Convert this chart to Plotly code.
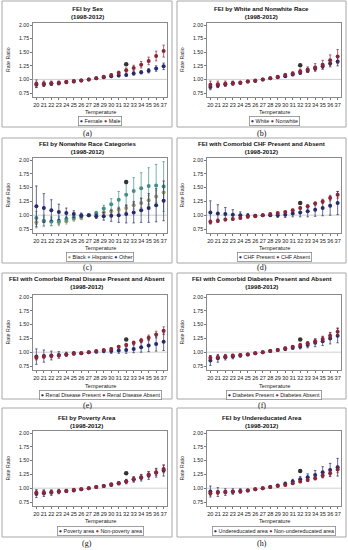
import plotly.graph_objects as go

temps = list(range(20, 38))
ytick_vals = [0.75, 1.00, 1.25, 1.50, 1.75, 2.00]
ytick_text = ["0.75", "1.00", "1.25", "1.50", "1.75", "2.00"]

NAVY = "#262B6C"
RED = "#8A2638"
TAN = "#A89C6A"
TEAL = "#3F9088"
EXTRA = "#333333"

# (a) sex
a_female = [0.90,0.91,0.92,0.93,0.95,0.96,0.98,1.00,1.02,1.04,1.06,1.07,1.08,1.11,1.13,1.16,1.20,1.24]
a_female_err = [0.05,0.04,0.03,0.03,0.02,0.02,0.01,0.00,0.01,0.01,0.02,0.02,0.02,0.03,0.03,0.04,0.05,0.06]
a_male = [0.92,0.92,0.93,0.94,0.95,0.97,0.98,1.00,1.02,1.05,1.08,1.12,1.17,1.21,1.27,1.34,1.43,1.52]
a_male_err = [0.07,0.05,0.04,0.03,0.03,0.02,0.01,0.00,0.01,0.02,0.02,0.03,0.04,0.05,0.06,0.07,0.09,0.11]
a_extra = 1.28
# (b) white / nonwhite
b_white = [0.86,0.89,0.91,0.93,0.94,0.96,0.97,1.00,1.02,1.04,1.06,1.09,1.12,1.16,1.20,1.24,1.29,1.33]
b_white_err = [0.05,0.04,0.03,0.03,0.02,0.01,0.01,0.00,0.01,0.01,0.02,0.02,0.03,0.03,0.04,0.05,0.06,0.08]
b_nonwhite = [0.90,0.91,0.92,0.93,0.94,0.96,0.98,1.00,1.02,1.05,1.08,1.11,1.15,1.18,1.22,1.27,1.35,1.42]
b_nonwhite_err = [0.07,0.06,0.05,0.04,0.03,0.02,0.01,0.00,0.01,0.02,0.03,0.03,0.04,0.05,0.07,0.08,0.10,0.13]
b_extra = 1.26
# (c) nonwhite categories
c_black = [0.87,0.89,0.88,0.87,0.89,0.93,0.95,1.00,1.02,1.05,1.07,1.10,1.13,1.18,1.22,1.27,1.34,1.41]
c_black_err = [0.10,0.08,0.07,0.06,0.05,0.04,0.03,0.00,0.02,0.03,0.04,0.05,0.06,0.07,0.08,0.09,0.11,0.13]
c_hispanic = [0.95,0.90,0.89,0.90,0.93,0.96,0.98,1.00,1.04,1.12,1.20,1.28,1.37,1.44,1.49,1.53,1.54,1.52]
c_hispanic_err = [0.12,0.10,0.08,0.07,0.05,0.04,0.03,0.00,0.03,0.06,0.10,0.15,0.20,0.24,0.28,0.33,0.38,0.45]
c_other = [1.16,1.13,1.09,1.06,1.04,1.02,1.00,1.00,0.98,0.98,0.99,1.00,1.02,1.05,1.09,1.13,1.18,1.26]
c_other_err = [0.37,0.26,0.19,0.14,0.09,0.06,0.04,0.00,0.04,0.07,0.10,0.13,0.16,0.19,0.22,0.26,0.30,0.36]
c_extra = 1.60
# (d) CHF
d_present = [1.05,1.03,1.02,1.01,1.00,0.99,0.99,1.00,1.00,1.00,1.01,1.03,1.05,1.07,1.10,1.13,1.17,1.22]
d_present_err = [0.21,0.16,0.12,0.09,0.06,0.04,0.02,0.00,0.02,0.04,0.05,0.06,0.08,0.10,0.12,0.14,0.17,0.21]
d_absent = [0.88,0.90,0.92,0.93,0.95,0.97,0.98,1.00,1.02,1.04,1.06,1.09,1.13,1.16,1.21,1.25,1.31,1.37]
d_absent_err = [0.03,0.03,0.02,0.02,0.02,0.01,0.01,0.00,0.01,0.01,0.01,0.02,0.02,0.03,0.03,0.04,0.05,0.06]
d_extra = 1.22
# (e) renal
e_present = [0.92,0.93,0.94,0.95,0.96,0.98,0.98,1.00,1.01,1.02,1.02,1.03,1.04,1.06,1.09,1.12,1.15,1.19]
e_present_err = [0.14,0.11,0.08,0.06,0.04,0.03,0.02,0.00,0.02,0.03,0.04,0.05,0.06,0.07,0.09,0.11,0.13,0.16]
e_absent = [0.90,0.92,0.93,0.94,0.96,0.97,0.98,1.00,1.02,1.04,1.06,1.10,1.13,1.17,1.21,1.26,1.32,1.39]
e_absent_err = [0.04,0.03,0.03,0.02,0.02,0.01,0.01,0.00,0.01,0.01,0.02,0.02,0.03,0.03,0.04,0.05,0.06,0.07]
e_extra = 1.23
# (f) diabetes
f_present = [0.85,0.89,0.91,0.92,0.94,0.96,0.98,1.00,1.02,1.04,1.06,1.08,1.10,1.13,1.17,1.20,1.25,1.30]
f_present_err = [0.09,0.07,0.05,0.04,0.03,0.02,0.01,0.00,0.01,0.02,0.03,0.03,0.04,0.05,0.07,0.08,0.10,0.13]
f_absent = [0.90,0.91,0.92,0.94,0.95,0.96,0.98,1.00,1.02,1.04,1.07,1.10,1.13,1.16,1.20,1.24,1.30,1.37]
f_absent_err = [0.04,0.03,0.03,0.02,0.02,0.01,0.01,0.00,0.01,0.01,0.02,0.02,0.03,0.03,0.04,0.05,0.06,0.07]
f_extra = 1.23
# (g) poverty
g_poverty = [0.90,0.91,0.92,0.94,0.95,0.96,0.98,1.00,1.02,1.04,1.06,1.09,1.12,1.16,1.19,1.23,1.28,1.32]
g_poverty_err = [0.07,0.06,0.05,0.04,0.03,0.02,0.01,0.00,0.01,0.02,0.02,0.03,0.04,0.05,0.06,0.07,0.08,0.10]
g_nonpoverty = [0.92,0.92,0.93,0.94,0.95,0.97,0.98,1.00,1.02,1.04,1.07,1.09,1.12,1.16,1.20,1.25,1.29,1.35]
g_nonpoverty_err = [0.05,0.04,0.03,0.03,0.02,0.02,0.01,0.00,0.01,0.01,0.02,0.02,0.03,0.04,0.04,0.05,0.06,0.07]
g_extra = 1.27
# (h) undereducated
h_under = [0.94,0.93,0.93,0.94,0.95,0.96,0.98,1.00,1.02,1.05,1.08,1.12,1.16,1.20,1.24,1.29,1.33,1.38]
h_under_err = [0.10,0.08,0.06,0.05,0.04,0.02,0.01,0.00,0.01,0.02,0.03,0.04,0.05,0.06,0.08,0.10,0.12,0.16]
h_nonunder = [0.91,0.92,0.93,0.93,0.94,0.96,0.98,1.00,1.02,1.04,1.06,1.09,1.12,1.15,1.18,1.23,1.27,1.34]
h_nonunder_err = [0.04,0.03,0.03,0.02,0.02,0.01,0.01,0.00,0.01,0.01,0.02,0.02,0.02,0.03,0.03,0.04,0.05,0.06]
h_extra = 1.31

panels = [
    dict(title="FEI by Sex", label="(a)",
         series=[("Female", a_female, a_female_err, NAVY), ("Male", a_male, a_male_err, RED)], extra=a_extra),
    dict(title="FEI by White and Nonwhite Race", label="(b)",
         series=[("White", b_white, b_white_err, NAVY), ("Nonwhite", b_nonwhite, b_nonwhite_err, RED)], extra=b_extra),
    dict(title="FEI by Nonwhite Race Categories", label="(c)",
         series=[("Black", c_black, c_black_err, TAN), ("Hispanic", c_hispanic, c_hispanic_err, TEAL),
                 ("Other", c_other, c_other_err, NAVY)], extra=c_extra),
    dict(title="FEI with Comorbid CHF Present and Absent", label="(d)",
         series=[("CHF Present", d_present, d_present_err, NAVY), ("CHF Absent", d_absent, d_absent_err, RED)], extra=d_extra),
    dict(title="FEI with Comorbid Renal Disease Present and Absent", label="(e)",
         series=[("Renal Disease Present", e_present, e_present_err, NAVY),
                 ("Renal Disease Absent", e_absent, e_absent_err, RED)], extra=e_extra),
    dict(title="FEI with Comorbid Diabetes Present and Absent", label="(f)",
         series=[("Diabetes Present", f_present, f_present_err, NAVY),
                 ("Diabetes Absent", f_absent, f_absent_err, RED)], extra=f_extra),
    dict(title="FEI by Poverty Area", label="(g)",
         series=[("Poverty area", g_poverty, g_poverty_err, NAVY),
                 ("Non-poverty area", g_nonpoverty, g_nonpoverty_err, RED)], extra=g_extra),
    dict(title="FEI by Undereducated Area", label="(h)",
         series=[("Undereducated area", h_under, h_under_err, NAVY),
                 ("Non-undereducated area", h_nonunder, h_nonunder_err, RED)], extra=h_extra),
]
SUBTITLE = "(1998-2012)"

W, H = 348, 550
def PX(x): return x / W
def PY(y): return 1 - y / H

YMIN, YMAX = 0.675, 2.04
rows = [
    dict(box=(1, 127), title=12.5, y2=25, y075=93, temp=112, leg=121, lab=133),
    dict(box=(138, 263), title=148, y2=160, y075=229, temp=248, leg=257, lab=267.5),
    dict(box=(273, 399), title=282, y2=297, y075=366, temp=386, leg=395, lab=405),
    dict(box=(408, 537), title=421, y2=433, y075=502, temp=521, leg=531, lab=543),
]
cols = [
    dict(box=(2, 172), plot=(33, 167), ylab=8),
    dict(box=(177, 346), plot=(207, 341), ylab=182),
]

FONT = "Liberation Sans, Arial, sans-serif"
fig = go.Figure()
shapes, annotations = [], []
layout = {}

for i, p in enumerate(panels):
    r = rows[i // 2]
    c = cols[i % 2]
    k = i + 1
    xa = "x" if k == 1 else f"x{k}"
    ya = "y" if k == 1 else f"y{k}"
    s = (r["y075"] - r["y2"]) / 1.25
    top = r["y2"] - (YMAX - 2.0) * s
    bot = r["y075"] + (0.75 - YMIN) * s
    x0, x1 = c["plot"]
    layout[f"xaxis{k}"] = dict(
        domain=[PX(x0), PX(x1)], anchor=ya, range=[19.55, 37.45],
        tickmode="array", tickvals=temps, ticktext=[str(t) for t in temps], tickangle=0,
        ticks="outside", ticklen=2, tickwidth=0.8, tickcolor="#777",
        showline=True, mirror=True, linecolor="#8a8a8a", linewidth=0.8,
        showgrid=False, zeroline=False,
        tickfont=dict(size=5.6, color="#222", family=FONT))
    layout[f"yaxis{k}"] = dict(
        domain=[PY(bot), PY(top)], anchor=xa, range=[YMIN, YMAX],
        tickmode="array", tickvals=ytick_vals, ticktext=ytick_text,
        ticks="outside", ticklen=2, tickwidth=0.8, tickcolor="#777",
        showline=True, mirror=True, linecolor="#8a8a8a", linewidth=0.8,
        showgrid=False, zeroline=False,
        tickfont=dict(size=5.2, color="#222", family=FONT))

    for name, vals, errs, col in p["series"]:
        fig.add_trace(go.Scatter(
            x=temps, y=vals, mode="markers", name=name, showlegend=False,
            xaxis=xa, yaxis=ya,
            marker=dict(color=col, size=4, symbol="circle"),
            error_y=dict(type="data", array=errs, color=col, thickness=0.7, width=1.2)))
    fig.add_trace(go.Scatter(
        x=[32], y=[p["extra"]], mode="markers", showlegend=False,
        xaxis=xa, yaxis=ya, marker=dict(color=EXTRA, size=4.5, symbol="circle")))

    shapes.append(dict(type="line", xref=f"{xa} domain", x0=0, x1=1, yref=ya, y0=1, y1=1,
                       line=dict(color="#C4C4C4", width=0.8), layer="below"))
    bx0, bx1 = c["box"]
    by0, by1 = r["box"]
    shapes.append(dict(type="rect", xref="paper", yref="paper",
                       x0=PX(bx0), x1=PX(bx1), y0=PY(by1), y1=PY(by0),
                       line=dict(color="#A8A8A8", width=1)))
    bcx = (bx0 + bx1) / 2
    pcx = (x0 + x1) / 2
    annotations.append(dict(xref="paper", yref="paper", x=PX(bcx), y=PY(r["title"]),
                            text=f"<b>{p['title']}</b><br><b>{SUBTITLE}</b>", showarrow=False,
                            xanchor="center", yanchor="middle",
                            font=dict(size=6.1, color="#111", family=FONT)))
    annotations.append(dict(xref="paper", yref="paper", x=PX(pcx), y=PY(r["temp"]),
                            text="Temperature", showarrow=False, xanchor="center", yanchor="middle",
                            font=dict(size=5.6, color="#222", family=FONT)))
    annotations.append(dict(xref="paper", yref="paper", x=PX(c["ylab"]), y=PY((top + bot) / 2),
                            text="Rate Ratio", showarrow=False, textangle=-90,
                            xanchor="center", yanchor="middle",
                            font=dict(size=5.2, color="#222", family=FONT)))
    leg_txt = " ".join(f'<span style="color:{col}">●</span> {name}'
                       for name, _, _, col in p["series"])
    annotations.append(dict(xref="paper", yref="paper", x=PX(pcx), y=PY(r["leg"]),
                            text=leg_txt, showarrow=False, xanchor="center", yanchor="middle",
                            bordercolor="#8a8a8a", borderwidth=0.8, borderpad=1, bgcolor="white",
                            font=dict(size=5.4, color="#222", family=FONT)))
    annotations.append(dict(xref="paper", yref="paper", x=PX(bcx), y=PY(r["lab"]),
                            text=p["label"], showarrow=False, xanchor="center", yanchor="middle",
                            font=dict(size=8, color="#111", family="Liberation Serif, serif")))

fig.update_layout(
    width=W, height=H, margin=dict(l=0, r=0, t=0, b=0),
    paper_bgcolor="white", plot_bgcolor="white", showlegend=False,
    shapes=shapes, annotations=annotations, **layout)

fig.write_html("out.html", config={"displayModeBar": False},
               post_script="document.body.style.margin='0';")
